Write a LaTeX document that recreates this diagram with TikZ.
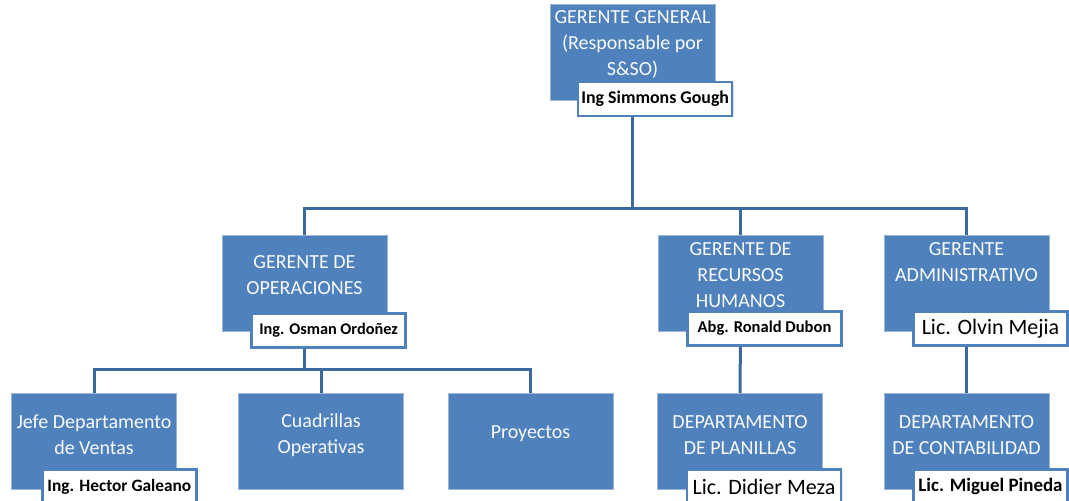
\documentclass[tikz,border=0pt]{standalone}
\usepackage{fontspec}
\setmainfont{Carlito}
\usepackage{xcolor}
\usetikzlibrary{positioning,backgrounds,shadows}
\definecolor{cBox} {HTML}{4F81BD}
\definecolor{cEdge}{HTML}{9DB6D8}
\definecolor{cLine}{HTML}{3C6A9E}

\tikzset{
  unit/.style={fill=cBox,draw=cEdge,line width=0.5pt,minimum width=123.75pt,minimum height=72pt,inner sep=0pt},
  unittext/.style={text=white!96!cBox,align=center,inner sep=0pt,font=\fontsize{15}{19.5}\selectfont},
  tag/.style={fill=white,draw=cBox,line width=1.8pt,minimum width=115.5pt,minimum height=25.5pt,inner sep=0pt,
    font=\bfseries\fontsize{#1}{15}\selectfont,
    drop shadow={shadow xshift=1.2pt,shadow yshift=-1.2pt,opacity=.25}},
  tag/.default=13,
  tagbig/.style={tag,font=\fontsize{16.5}{18}\selectfont},
  conn/.style={draw=cLine,line width=2.25pt}
}

\begin{document}
\begin{tikzpicture}[x=0.75pt,y=-0.75pt]
        \useasboundingbox (0,0) rectangle (1069,500);
        \clip (0,0) rectangle (1069,500);

        % boxes
        \node[unit] (gg)  at (632.5,52.5)  {};
        \node[unit] (ops) at (304.5,283.5) {};
        \node[unit] (rh)  at (740.5,283.5) {};
        \node[unit] (adm) at (966.5,283.5) {};
        \node[unit] (ven) at (94,441.5)    {};
        \node[unit] (cua) at (321,441.5)   {};
        \node[unit] (pro) at (530.5,441.5) {};
        \node[unit] (pla) at (740,441.5)   {};
        \node[unit] (con) at (966.5,441.5) {};

        % box texts
        \node[unittext] (ggt)  at (632.5,44)  {GERENTE GENERAL\\(Responsable por\\S\&SO)};
        \node[unittext] (opst) at (304.5,275) {GERENTE DE\\OPERACIONES};
        \node[unittext] (rht)  at (740.5,275.5) {GERENTE DE\\RECURSOS\\HUMANOS};
        \node[unittext] (admt) at (966.5,262.5) {GERENTE\\ADMINISTRATIVO};
        \node[unittext] (vent) at (94,434.5)  {Jefe Departamento\\de Ventas};
        \node[unittext] (cuat) at (321,435.5) {Cuadrillas\\Operativas};
        \node[unittext] (prot) at (530.5,434) {Proyectos};
        \node[unittext] (plat) at (740,435)   {DEPARTAMENTO\\DE PLANILLAS};
        \node[unittext] (cont) at (966.5,435) {DEPARTAMENTO\\DE CONTABILIDAD};

        % names
        \node[tag=13.4] (ggn)  at ([xshift=17pt,yshift=1.5pt]gg.south)  {Ing Simmons Gough};
        \node[tag=12.2] (opsn) at ([xshift=18pt,yshift=1pt]ops.south)   {Ing. Osman Ordoñez};
        \node[tag=12.4] (rhn)  at ([xshift=18pt,yshift=2.5pt]rh.south)  {Abg. Ronald Dubon};
        \node[tagbig]   (admn) at ([xshift=18pt,yshift=2.5pt]adm.south) {Lic. Olvin Mejia};
        \node[tag=13]   (venn) at ([xshift=19pt,yshift=2.5pt]ven.south) {Ing. Hector Galeano};
        \node[tagbig]   (plan) at ([xshift=18pt,yshift=2.5pt]pla.south) {Lic. Didier Meza};
        \node[tag=14.2] (conn) at ([xshift=18pt,yshift=2.5pt]con.south) {Lic. Miguel Pineda};

        % connectors
        \begin{scope}[on background layer]
          \draw[conn] (gg.south) -- (gg.south |- 0,208);
          \draw[conn] (ops.north) -- (ops.north |- 0,208) -| (adm.north);
          \draw[conn] (rh.north) -- (rh.north |- 0,208);
          \draw[conn] (ops.south) -- (ops.south |- 0,369);
          \draw[conn] (ven.north) -- (ven.north |- 0,369) -| (pro.north);
          \draw[conn] (cua.north) -- (cua.north |- 0,369);
          \draw[conn] (rh.south) -- (pla.north);
          \draw[conn] (adm.south) -- (con.north);
        \end{scope}
      \end{tikzpicture}
\end{document}
